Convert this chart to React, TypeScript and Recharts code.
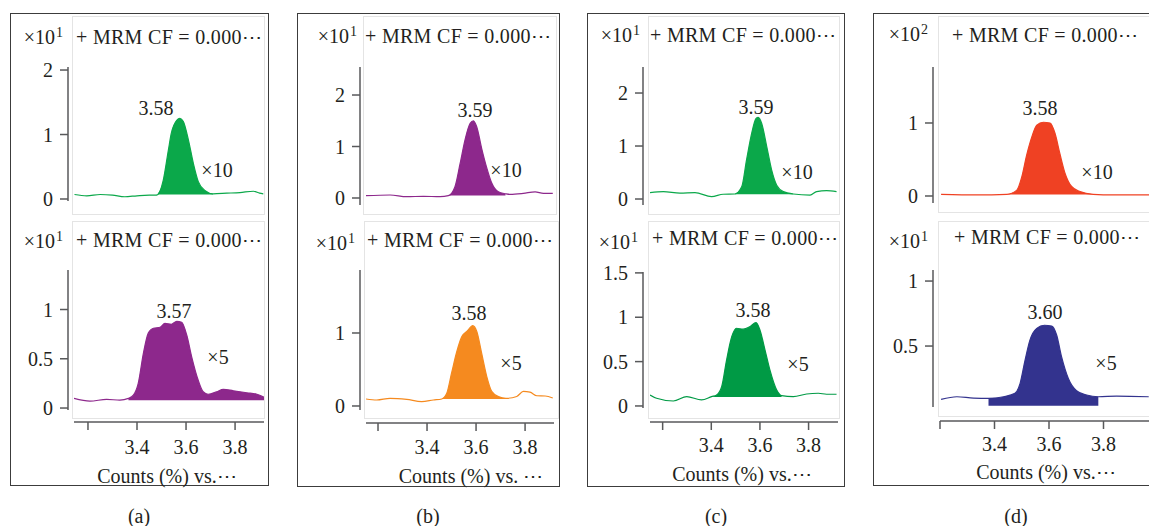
import React from "react";
import { ComposedChart, Line, Area, XAxis, YAxis } from "recharts";

const FONT = '"Liberation Serif", "Times New Roman", serif';
const INK = "#231f20";
const AXIS = "#58595b";

// ---- data (retention time in min, counts x scale) ----
const xTicks = [3.2, 3.4, 3.6, 3.8];

const traceATop: [number, number][] = [
  [3.145, 0.07], [3.195, 0.05], [3.25, 0.07], [3.3, 0.06], [3.35, 0.035], [3.4, 0.05], [3.45, 0.06],
  [3.48, 0.06], [3.507, 0.29], [3.528, 0.76], [3.54, 1.02], [3.562, 1.22], [3.575, 1.25], [3.589, 1.2],
  [3.61, 0.91], [3.63, 0.55], [3.65, 0.27], [3.678, 0.13], [3.71, 0.08], [3.766, 0.09], [3.82, 0.1],
  [3.875, 0.12], [3.9, 0.09], [3.915, 0.08],
];
const traceABot: [number, number][] = [
  [3.143, 0.098], [3.208, 0.07], [3.276, 0.088], [3.33, 0.08], [3.365, 0.098], [3.385, 0.13], [3.405, 0.25],
  [3.426, 0.555], [3.446, 0.76], [3.467, 0.81], [3.494, 0.82], [3.514, 0.86], [3.54, 0.85], [3.562, 0.88],
  [3.582, 0.87], [3.603, 0.74], [3.623, 0.52], [3.65, 0.28], [3.67, 0.165], [3.69, 0.14], [3.725, 0.165],
  [3.752, 0.19], [3.793, 0.175], [3.848, 0.155], [3.889, 0.14], [3.918, 0.11],
];
const traceBTop: [number, number][] = [
  [3.151, 0.045], [3.249, 0.058], [3.317, 0.025], [3.385, 0.033], [3.453, 0.025], [3.487, 0.045],
  [3.514, 0.22], [3.535, 0.67], [3.555, 1.13], [3.576, 1.45], [3.589, 1.5], [3.603, 1.38], [3.623, 0.96],
  [3.644, 0.58], [3.664, 0.29], [3.691, 0.12], [3.72, 0.083], [3.739, 0.07], [3.793, 0.09], [3.841, 0.12],
  [3.875, 0.09], [3.913, 0.09],
];
const traceBBot: [number, number][] = [
  [3.151, 0.096], [3.195, 0.082], [3.249, 0.105], [3.317, 0.09], [3.378, 0.06], [3.426, 0.082], [3.46, 0.096],
  [3.48, 0.17], [3.5, 0.45], [3.521, 0.74], [3.542, 0.95], [3.562, 1.02], [3.587, 1.1], [3.603, 1.02],
  [3.623, 0.72], [3.644, 0.4], [3.664, 0.2], [3.691, 0.13], [3.722, 0.105], [3.766, 0.13], [3.793, 0.2],
  [3.82, 0.19], [3.848, 0.14], [3.882, 0.137], [3.913, 0.11],
];
const traceCTop: [number, number][] = [
  [3.148, 0.12], [3.203, 0.14], [3.271, 0.11], [3.333, 0.12], [3.401, 0.045], [3.449, 0.09], [3.497, 0.095],
  [3.525, 0.23], [3.545, 0.74], [3.566, 1.24], [3.584, 1.52], [3.593, 1.54], [3.607, 1.43], [3.628, 0.99],
  [3.648, 0.55], [3.669, 0.26], [3.696, 0.14], [3.737, 0.095], [3.806, 0.075], [3.833, 0.14], [3.874, 0.16],
  [3.915, 0.14],
];
const traceCBot: [number, number][] = [
  [3.148, 0.124], [3.175, 0.087], [3.244, 0.056], [3.299, 0.105], [3.36, 0.068], [3.401, 0.105], [3.422, 0.124],
  [3.443, 0.22], [3.463, 0.52], [3.484, 0.78], [3.504, 0.876], [3.531, 0.865], [3.559, 0.894], [3.584, 0.94],
  [3.6, 0.857], [3.621, 0.63], [3.641, 0.406], [3.669, 0.18], [3.689, 0.116], [3.737, 0.105], [3.792, 0.135],
  [3.84, 0.143], [3.874, 0.132], [3.915, 0.132],
];
const traceDTop: [number, number][] = [
  [3.204, 0.023], [3.335, 0.014], [3.445, 0.023], [3.482, 0.08], [3.5, 0.26], [3.518, 0.56], [3.537, 0.81],
  [3.555, 0.97], [3.579, 1.01], [3.604, 1.0], [3.622, 0.86], [3.64, 0.58], [3.659, 0.31], [3.683, 0.13],
  [3.714, 0.06], [3.762, 0.023], [3.836, 0.014], [3.967, 0.014],
];
const traceDBot: [number, number][] = [
  [3.204, 0.09], [3.262, 0.11], [3.323, 0.1], [3.378, 0.098], [3.433, 0.11], [3.475, 0.136], [3.494, 0.213],
  [3.512, 0.39], [3.53, 0.546], [3.555, 0.636], [3.583, 0.66], [3.61, 0.654], [3.628, 0.585], [3.646, 0.418],
  [3.671, 0.25], [3.701, 0.156], [3.738, 0.123], [3.781, 0.11], [3.848, 0.115], [3.966, 0.11],
];

const traces = [traceATop, traceABot, traceBTop, traceBBot, traceCTop, traceCBot, traceDTop, traceDBot];
const peakStart = [3.48, 3.365, 3.487, 3.46, 3.497, 3.401, 3.445, 3.378];
const peakEnd = [3.71, 3.918, 3.72, 3.722, 3.737, 3.689, 3.762, 3.781];
const integrationBase = [0.07, 0.08, 0.05, 0.095, 0.09, 0.1, 0.02, 0.04];
const seriesColors = ["#0ba84a", "#8d288c", "#8d288c", "#f58a1f", "#0ba84a", "#009a45", "#ef4123", "#33338e"];
const yTickSets = [[0, 1, 2], [0, 0.5, 1], [0, 1, 2], [0, 1], [0, 1, 2], [0, 0.5, 1, 1.5], [0, 1], [0.5, 1]];
const retentionLabels = ["3.58", "3.57", "3.59", "3.58", "3.59", "3.58", "3.58", "3.60"];
const gainLabels = ["×10", "×5", "×10", "×5", "×10", "×5", "×10", "×5"];
const scaleExponents = ["1", "1", "1", "1", "1", "1", "2", "1"];
const titleText = "+ MRM CF = 0.000⋯";
const xTitles = ["Counts (%) vs.⋯", "Counts (%) vs. ⋯", "Counts (%) vs.⋯", "Counts (%) vs.⋯"];
const panelLetters = ["(a)", "(b)", "(c)", "(d)"];

// ---- layout (px) ----
const PANELS = [
  { left: 10, top: 13, right: 269, bottom: 486, plot: [74, 264], xDomain: [3.143, 3.918], ys: -6, letterX: 139, xTitle: [167, 476] },
  { left: 297, top: 13, right: 560, bottom: 487, plot: [366, 554], xDomain: [3.151, 3.918], ys: -6, letterX: 428, xTitle: [471, 476] },
  { left: 587, top: 13, right: 845, bottom: 487, plot: [650, 838], xDomain: [3.148, 3.921], ys: -7, letterX: 716, xTitle: [742, 474] },
  { left: 873, top: 13, right: 1170, bottom: 486, plot: [940, 1158], xDomain: [3.2, 4.0], ys: -7, letterX: 1016, xTitle: [1046, 472] },
];
const SUBS = [
  { top: 67, bottom: 201, yDomain: [-0.031, 2.047], axisY: 0, frame: [72, 16, 265, 215], scale: [63, 37], title: [76, 37], rt: [156, 108], gain: [217, 170] },
  { top: 270, bottom: 410, yDomain: [-0.02, 1.401], axisY: 422, frame: [72, 221, 265, 419], scale: [63, 241], title: [76, 240], rt: [174, 311], gain: [218, 357] },
  { top: 67, bottom: 205, yDomain: [-0.136, 2.544], axisY: 0, frame: [363, 16, 557, 215], scale: [357, 36], title: [365, 36], rt: [475, 110], gain: [506, 170] },
  { top: 270, bottom: 410, yDomain: [-0.055, 1.863], axisY: 423, frame: [364, 221, 559, 419], scale: [355, 243], title: [367, 240], rt: [469, 313], gain: [511, 363] },
  { top: 67, bottom: 205, yDomain: [-0.113, 2.491], axisY: 0, frame: [648, 16, 840, 215], scale: [640, 35], title: [650, 35], rt: [756, 107], gain: [797, 172] },
  { top: 272, bottom: 408, yDomain: [-0.023, 1.51], axisY: 422, frame: [648, 221, 840, 419], scale: [638, 242], title: [652, 238], rt: [753, 310], gain: [798, 364] },
  { top: 67, bottom: 203, yDomain: [-0.096, 1.767], axisY: 0, frame: [938, 16, 1170, 213], scale: [928, 34], title: [952, 35], rt: [1040, 108], gain: [1097, 172] },
  { top: 270, bottom: 407, yDomain: [0.031, 1.085], axisY: 421, frame: [938, 221, 1170, 417], scale: [928, 241], title: [954, 237], rt: [1045, 312], gain: [1106, 363] },
];

const css = `
.sub svg { overflow: visible; }
.sub .recharts-yAxis { transform: translateX(var(--ys)); }
.sub .recharts-xAxis { transform: translateY(var(--xs)); }
`;

function Txt({ x, y, align = "left", style, children }: { x: number; y: number; align?: string; style?: React.CSSProperties; children: React.ReactNode }) {
  const tx = align === "center" ? "-50%" : align === "right" ? "-100%" : "0";
  return (
    <div
      style={{
        position: "absolute", left: x, top: y, transform: `translate(${tx}, -50%)`,
        fontSize: 20, lineHeight: 1, whiteSpace: "nowrap", color: INK, fontFamily: FONT, ...style,
      }}
    >
      {children}
    </div>
  );
}

function Subplot({ i }: { i: number }) {
  const p = PANELS[Math.floor(i / 2)];
  const s = SUBS[i];
  const isBottom = i % 2 === 1;
  const rows = traces[i].map(([x, y]) => ({ x, y, peak: x >= peakStart[i] && x <= peakEnd[i] ? y : null }));
  const chartLeft = p.left + 2;
  const yw = p.plot[0] - chartLeft;
  const w = p.plot[1] - chartLeft + 4;
  const h = s.bottom - s.top + 4 + (isBottom ? 50 : 4);
  const vars = { "--ys": `${p.ys}px`, "--xs": `${isBottom ? s.axisY - s.bottom : 0}px` } as React.CSSProperties;
  const tickStyle = { fill: INK, fontSize: 20, fontFamily: FONT };
  return (
    <div className="sub" style={{ position: "absolute", left: chartLeft, top: s.top - 4, width: w, height: h, ...vars }}>
      <ComposedChart width={w} height={h} data={rows} margin={{ top: 4, right: 4, bottom: isBottom ? 0 : 4, left: 0 }}>
        <XAxis
          type="number" dataKey="x" domain={p.xDomain} allowDataOverflow ticks={xTicks} interval={0}
          hide={!isBottom} height={isBottom ? 50 : 0}
          tickFormatter={(v: number) => (Math.abs(v - 3.2) < 1e-9 ? "" : v.toFixed(1))}
          tick={tickStyle} tickSize={8} tickMargin={22}
          axisLine={{ stroke: AXIS, strokeWidth: 1.5 }} tickLine={{ stroke: AXIS, strokeWidth: 1.5 }}
        />
        <YAxis
          type="number" domain={s.yDomain} allowDataOverflow ticks={yTickSets[i]} interval={0} width={yw}
          tick={tickStyle} tickSize={8} tickMargin={7 - p.ys}
          axisLine={{ stroke: AXIS, strokeWidth: 1.5 }} tickLine={{ stroke: AXIS, strokeWidth: 1.5 }}
        />
        <Area
          type="monotone" dataKey="peak" baseValue={integrationBase[i]} stroke="none"
          fill={seriesColors[i]} fillOpacity={1} connectNulls={false} isAnimationActive={false}
        />
        <Line type="monotone" dataKey="y" stroke={seriesColors[i]} strokeWidth={1.2} dot={false} isAnimationActive={false} />
      </ComposedChart>
    </div>
  );
}

export default function App() {
  return (
    <div
      style={{
        position: "absolute", left: 0, top: 0, width: 1149, height: 526, overflow: "hidden",
        background: "#fff", fontFamily: FONT,
      }}
    >
      <style>{css}</style>
      {PANELS.map((p, k) => (
        <div
          key={"box" + k}
          style={{
            position: "absolute", left: p.left, top: p.top, width: p.right - p.left, height: p.bottom - p.top,
            border: "1.5px solid #3c3c3c", boxSizing: "border-box",
          }}
        />
      ))}
      {SUBS.map((s, i) => (
        <div
          key={"frame" + i}
          style={{
            position: "absolute", left: s.frame[0], top: s.frame[1], width: s.frame[2] - s.frame[0],
            height: s.frame[3] - s.frame[1], border: "1.5px solid #e4e4e4", boxSizing: "border-box",
          }}
        />
      ))}
      {SUBS.map((_, i) => (
        <Subplot key={"sub" + i} i={i} />
      ))}
      {SUBS.map((s, i) => (
        <React.Fragment key={"txt" + i}>
          <Txt x={s.scale[0]} y={s.scale[1]} align="right">
            ×10<span style={{ fontSize: 14, position: "relative", top: -7, marginLeft: 1 }}>{scaleExponents[i]}</span>
          </Txt>
          <Txt x={s.title[0]} y={s.title[1]} style={{ letterSpacing: 0.3 }}>{titleText}</Txt>
          <Txt x={s.rt[0]} y={s.rt[1]} align="center">{retentionLabels[i]}</Txt>
          <Txt x={s.gain[0]} y={s.gain[1]} align="center">{gainLabels[i]}</Txt>
        </React.Fragment>
      ))}
      {PANELS.map((p, k) => (
        <React.Fragment key={"lab" + k}>
          <Txt x={p.xTitle[0]} y={p.xTitle[1]} align="center">{xTitles[k]}</Txt>
          <Txt x={p.letterX} y={516} align="center">{panelLetters[k]}</Txt>
        </React.Fragment>
      ))}
    </div>
  );
}
